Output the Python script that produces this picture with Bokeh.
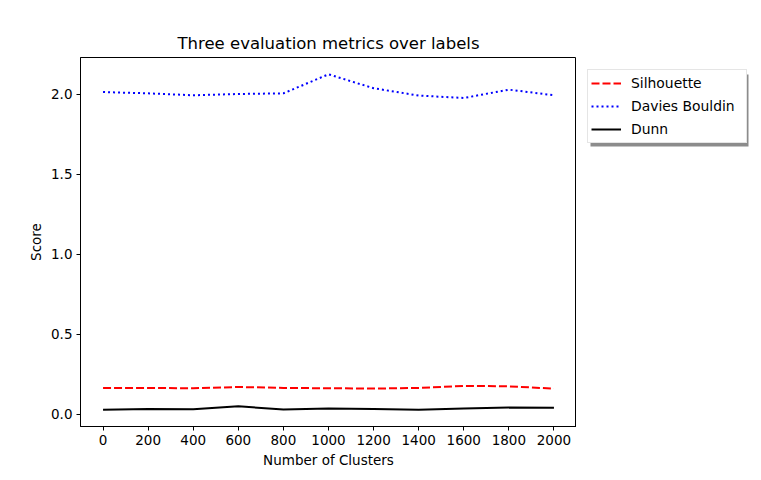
from bokeh.plotting import figure
from bokeh.layouts import row
from bokeh.models import (Range1d, FixedTicker, PrintfTickFormatter, Legend, LegendItem,
                          BoxAnnotation)
from bokeh.embed import file_html
from bokeh.resources import INLINE

clusters = [0, 200, 400, 600, 800, 1000, 1200, 1400, 1600, 1800, 2000]
silhouette = [0.165, 0.165, 0.163, 0.171, 0.165, 0.163, 0.161, 0.165, 0.178, 0.175, 0.161]
davies_bouldin = [2.014, 2.006, 1.994, 2.002, 2.006, 2.125, 2.038, 1.992, 1.977, 2.029, 1.994]
dunn = [0.029, 0.034, 0.032, 0.050, 0.031, 0.036, 0.033, 0.029, 0.036, 0.042, 0.041]
x_ticks = [0, 200, 400, 600, 800, 1000, 1200, 1400, 1600, 1800, 2000]
y_ticks = [0.0, 0.5, 1.0, 1.5, 2.0]
labels = ["Silhouette", "Davies Bouldin", "Dunn"]
colors = ["red", "blue", "black"]
dashes = ["8 3", "2 3", "solid"]

FONT = "DejaVu Sans"

p = figure(frame_width=496, frame_height=369, output_backend="svg", toolbar_location=None,
           x_range=Range1d(-100, 2100), y_range=Range1d(-0.076, 2.23),
           min_border_left=80, min_border_right=0, min_border_top=57, min_border_bottom=54,
           title="Three evaluation metrics over labels", background_fill_color="white",
           border_fill_color="white")

p.title.align = "center"
p.title.text_font = FONT
p.title.text_font_size = "16.5px"
p.title.text_font_style = "normal"
p.title.text_color = "black"
p.title.standoff = 10

p.grid.visible = False
p.outline_line_color = "black"
p.outline_line_width = 1
p.outline_line_alpha = 1

for ax in (p.xaxis[0], p.yaxis[0]):
    ax.major_tick_out = 4
    ax.major_tick_in = 0
    ax.minor_tick_out = 0
    ax.minor_tick_in = 0
    ax.major_tick_line_color = "black"
    ax.axis_line_color = "black"
    ax.major_label_text_font = FONT
    ax.major_label_text_font_size = "13.5px"
    ax.major_label_text_color = "black"
    ax.axis_label_text_font = FONT
    ax.axis_label_text_font_size = "13.5px"
    ax.axis_label_text_font_style = "normal"
    ax.axis_label_text_color = "black"
    ax.major_label_standoff = 4
    ax.axis_label_standoff = 4

p.xaxis.ticker = FixedTicker(ticks=x_ticks)
p.yaxis.ticker = FixedTicker(ticks=y_ticks)
p.yaxis.formatter = PrintfTickFormatter(format="%.1f")
p.xaxis.axis_label = "Number of Clusters"
p.yaxis.axis_label = "Score"

series = [silhouette, davies_bouldin, dunn]
for ys, c, d in zip(series, colors, dashes):
    p.line(clusters, ys, line_color=c, line_width=2, line_dash=d)

# legend panel to the right of the plot; its frame lines up with the main frame
lg = figure(frame_width=185, frame_height=369, output_backend="svg", toolbar_location=None,
            x_range=Range1d(0, 185), y_range=Range1d(0, 369),
            x_axis_type=None, y_axis_type=None,
            min_border_left=0, min_border_right=0, min_border_top=57, min_border_bottom=54,
            background_fill_color="white", border_fill_color="white")
lg.grid.visible = False
lg.outline_line_color = None

shadow = BoxAnnotation(left=14, right=172, top=352, bottom=280,
                       fill_color="#8c8c8c", fill_alpha=1, line_alpha=0)
lg.add_layout(shadow)

items = []
for lab, c, d in zip(labels, colors, dashes):
    r = lg.line([-10, -5], [-10, -5], line_color=c, line_width=2, line_dash=d)
    items.append(LegendItem(label=lab, renderers=[r]))

legend = Legend(items=items, location=(11, 283), orientation="vertical",
                label_text_font=FONT, label_text_font_size="13.9px", label_text_color="black",
                glyph_width=30, glyph_height=20, label_height=20, label_standoff=10,
                label_width=112, spacing=3, padding=3, margin=0, click_policy="none",
                border_line_color="#cccccc", border_line_width=1,
                background_fill_color="white", background_fill_alpha=1)
lg.add_layout(legend, "center")

layout = row(p, lg, spacing=0)
open("out.html", "w").write(file_html(layout, INLINE))
